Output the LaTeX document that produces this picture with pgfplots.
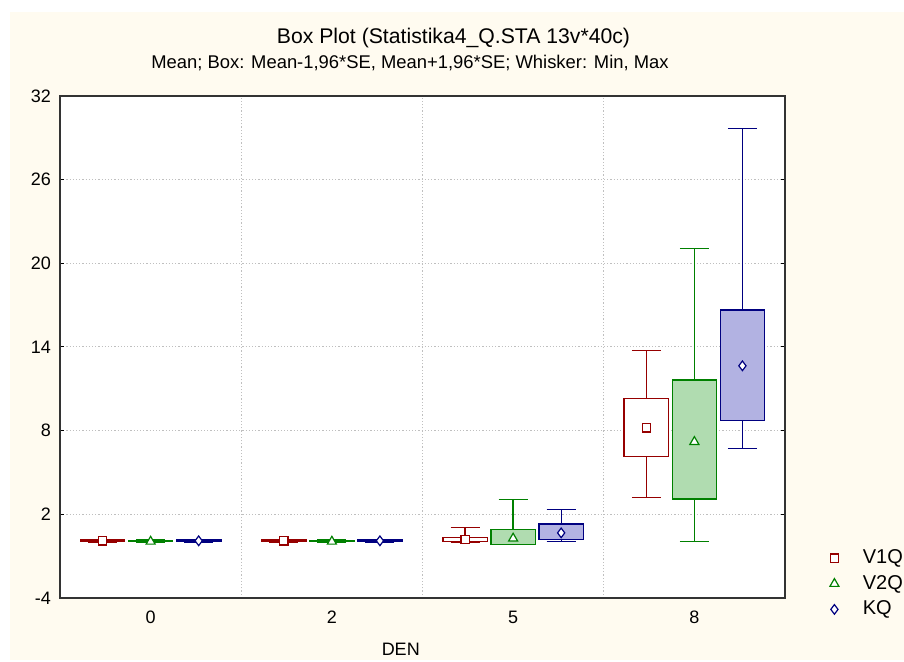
\documentclass[border=0pt]{standalone}
\usepackage{pgfplots}
\pgfplotsset{compat=1.18}
\usepgfplotslibrary{statistics}
\usepackage{fontspec}
\setmainfont{Liberation Sans}
\definecolor{cream}{RGB}{255,251,240}
\definecolor{vred}{RGB}{150,0,0}
\definecolor{vgreen}{RGB}{0,128,0}
\definecolor{vblue}{RGB}{0,0,128}
\definecolor{gfill}{RGB}{176,220,176}
\definecolor{bfill}{RGB}{178,178,226}
\begin{document}
\begin{tikzpicture}
\path[use as bounding box] (-30pt,-32pt) rectangle (422pt,299pt);
\fill[white] (-30pt,-32pt) rectangle (422pt,299pt);
\fill[cream] (-25pt,-31pt) rectangle (422pt,293pt);
\begin{axis}[
  scale only axis, width=362.5pt, height=251pt,
  xmin=-0.5, xmax=3.5, ymin=-4, ymax=32,
  xtick={0,1,2,3}, xticklabels={0,2,5,8},
  ytick={-4,2,...,32},
  minor xtick={0.5,1.5,2.5},
  xminorgrids, ymajorgrids,
  grid style={gray!50, dash pattern=on 0.6pt off 1pt, line width=0.5pt},
  xtick style={draw=none},
  ytick style={black, line width=0.5pt},
  tick align=inside, major tick length=1.8pt,
  yticklabel pos=left,
  axis background/.style={fill=white},
  axis line style={black!80, line width=0.8pt},
  tick label style={font=\fontsize{9}{11}\selectfont},
  /pgf/number format/assume math mode=true,
  xticklabel style={anchor=base, yshift=-13pt},
  yticklabel style={xshift=-1pt},
  xlabel={DEN},
  xlabel style={at={(axis description cs:0.47,0)}, anchor=base, yshift=-29pt, font=\fontsize{9}{11}\selectfont},
  legend style={at={(axis description cs:1.0505,0.111)}, anchor=north west, draw=none, fill=none,
    font=\fontsize{10}{12}\selectfont, row sep=1.3pt,
    nodes={inner sep=1pt, text height=7.5pt, text depth=2pt}},
  legend cell align=left,
  legend image code/.code={\draw[#1] plot coordinates {(0pt,0pt)}; \path (-3pt,0pt) (13pt,0pt);},
  boxplot/draw direction=y,
  boxplot/box extend=0.245,
  boxplot/whisker extend=0.16,
  boxplot/draw/median/.code={},
  v1/.style={draw=vred, line width=0.65pt, fill=white},
  v2/.style={draw=vgreen, line width=0.65pt, fill=gfill},
  kq/.style={draw=vblue, line width=0.65pt, fill=bfill},
]
% DEN = 0
\addplot[v1, forget plot, boxplot prepared={draw position=-0.265, lower whisker=0, lower quartile=0.05, median=0.1, upper quartile=0.15, upper whisker=0.2}] coordinates {};
\addplot[v2, forget plot, boxplot prepared={draw position=0, lower whisker=0, lower quartile=0.03, median=0.05, upper quartile=0.1, upper whisker=0.15}] coordinates {};
\addplot[kq, forget plot, boxplot prepared={draw position=0.265, lower whisker=0, lower quartile=0.05, median=0.1, upper quartile=0.15, upper whisker=0.2}] coordinates {};
% DEN = 2
\addplot[v1, forget plot, boxplot prepared={draw position=0.735, lower whisker=0, lower quartile=0.05, median=0.1, upper quartile=0.15, upper whisker=0.2}] coordinates {};
\addplot[v2, forget plot, boxplot prepared={draw position=1, lower whisker=0, lower quartile=0.03, median=0.05, upper quartile=0.1, upper whisker=0.15}] coordinates {};
\addplot[kq, forget plot, boxplot prepared={draw position=1.265, lower whisker=0, lower quartile=0.05, median=0.1, upper quartile=0.15, upper whisker=0.2}] coordinates {};
% DEN = 5
\addplot[v1, forget plot, boxplot prepared={draw position=1.735, lower whisker=0, lower quartile=0.03, median=0.2, upper quartile=0.35, upper whisker=1.04}] coordinates {};
\addplot[v2, forget plot, boxplot prepared={draw position=2, lower whisker=-0.16, lower quartile=-0.16, median=0.27, upper quartile=0.92, upper whisker=3.04}] coordinates {};
\addplot[kq, forget plot, boxplot prepared={draw position=2.265, lower whisker=0.03, lower quartile=0.22, median=0.67, upper quartile=1.3, upper whisker=2.37}] coordinates {};
% DEN = 8
\addplot[v1, forget plot, boxplot prepared={draw position=2.735, lower whisker=3.21, lower quartile=6.13, median=8.2, upper quartile=10.31, upper whisker=13.76}] coordinates {};
\addplot[v2, forget plot, boxplot prepared={draw position=3, lower whisker=0.03, lower quartile=3.09, median=7.2, upper quartile=11.63, upper whisker=21.07}] coordinates {};
\addplot[kq, forget plot, boxplot prepared={draw position=3.265, lower whisker=6.73, lower quartile=8.71, median=12.65, upper quartile=16.65, upper whisker=29.65}] coordinates {};
% means
\addplot[only marks, mark=square*, mark size=2.1pt, mark options={draw=vred, fill=white, line width=0.6pt}]
  coordinates {(-0.265,0.1) (0.735,0.1) (1.735,0.2) (2.735,8.2)};
\addplot[only marks, mark=triangle*, mark size=2.6pt, mark options={draw=vgreen, fill=white, line width=0.6pt}]
  coordinates {(0,0.05) (1,0.05) (2,0.27) (3,7.2)};
\addplot[only marks, mark=diamond*, mark size=2.4pt, mark options={draw=vblue, fill=white, line width=0.6pt}]
  coordinates {(0.265,0.1) (1.265,0.1) (2.265,0.67) (3.265,12.65)};
\legend{V1Q,V2Q,KQ}
\end{axis}
\node[anchor=base, font=\fontsize{10.6}{13}\selectfont] at (196.75pt,277pt) {Box Plot (Statistika4\_Q.STA 13v*40c)};
\node[anchor=base, font=\fontsize{9.2}{11}\selectfont] at (175pt,264.5pt) {Mean; Box: Mean-1,96*SE, Mean+1,96*SE; Whisker: Min, Max};
\end{tikzpicture}
\end{document}
